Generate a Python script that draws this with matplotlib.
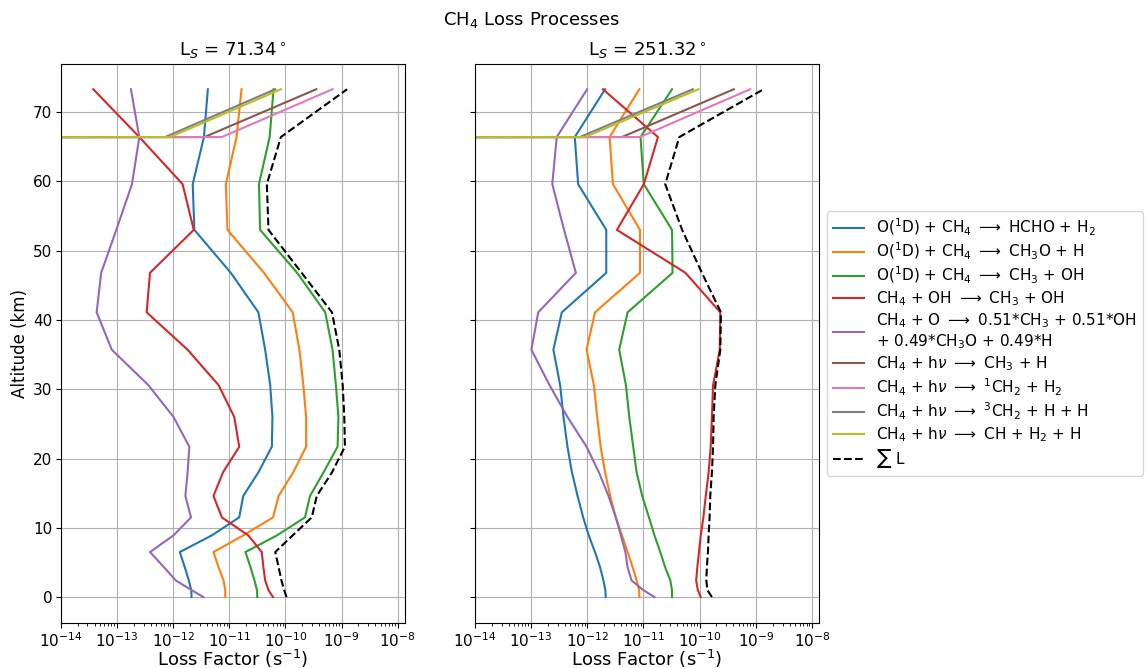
import matplotlib
matplotlib.use("Agg")
import matplotlib.pyplot as plt

# altitude levels (km), shared by both seasons
alt = [0.0, 1.0, 2.4, 4.3, 6.5, 8.9, 11.5, 14.6, 18.0, 21.7, 26.0,
       30.6, 35.7, 41.1, 46.8, 53.0, 59.6, 66.4, 73.3]

# Ls = 71.34
o1d_hcho_a = [2.14e-12, 2.11e-12, 1.91e-12, 1.62e-12, 1.32e-12, 4.90e-12, 1.51e-11, 1.78e-11, 3.31e-11, 5.75e-11,
              5.89e-11, 5.37e-11, 4.37e-11, 3.31e-11, 1.07e-11, 2.40e-12, 2.24e-12, 3.55e-12, 4.17e-12]
o1d_ch3o_a = [8.51e-12, 8.50e-12, 7.94e-12, 6.46e-12, 5.25e-12, 1.78e-11, 6.03e-11, 7.59e-11, 1.38e-10, 2.34e-10,
              2.34e-10, 2.09e-10, 1.78e-10, 1.35e-10, 4.17e-11, 9.33e-12, 8.71e-12, 1.35e-11, 1.66e-11]
o1d_ch3_a = [3.16e-11, 3.13e-11, 2.82e-11, 2.40e-11, 1.95e-11, 7.08e-11, 2.24e-10, 2.75e-10, 4.79e-10, 8.51e-10,
             8.81e-10, 7.94e-10, 6.92e-10, 5.13e-10, 1.62e-10, 3.55e-11, 3.39e-11, 5.25e-11, 6.17e-11]
oh_a = [6.03e-11, 5.01e-11, 4.37e-11, 4.07e-11, 3.80e-11, 2.19e-11, 7.41e-12, 5.25e-12, 7.76e-12, 1.51e-11,
        1.23e-11, 6.46e-12, 1.82e-12, 3.39e-13, 3.89e-13, 2.34e-12, 1.48e-12, 2.51e-13, 3.80e-14]
o_a = [3.47e-12, 2.14e-12, 1.12e-12, 6.92e-13, 3.89e-13, 1.02e-12, 2.09e-12, 1.66e-12, 1.82e-12, 1.95e-12,
       1.02e-12, 3.63e-13, 8.13e-14, 4.37e-14, 5.25e-14, 9.77e-14, 1.86e-13, 2.51e-13, 1.78e-13]
hv_ch3_a = [0.0] * 17 + [3.63e-12, 3.55e-10]
hv_1ch2_a = [0.0] * 17 + [7.41e-12, 6.92e-10]
hv_3ch2_a = [0.0] * 17 + [7.24e-13, 6.61e-11]
hv_ch_a = [0.0] * 17 + [8.91e-13, 8.32e-11]
total_a = [1.05e-10, 9.55e-11, 8.51e-11, 7.59e-11, 6.61e-11, 1.35e-10, 2.95e-10, 3.63e-10, 6.76e-10, 1.15e-9,
           1.12e-9, 1.05e-9, 9.12e-10, 6.76e-10, 1.95e-10, 5.01e-11, 4.68e-11, 8.32e-11, 1.26e-9]

# Ls = 251.32
o1d_hcho_b = [2.14e-12, 2.11e-12, 1.95e-12, 1.70e-12, 1.38e-12, 1.07e-12, 8.51e-13, 6.76e-13, 5.37e-13, 4.47e-13,
              3.80e-13, 3.31e-13, 2.51e-13, 3.55e-13, 2.19e-12, 2.19e-12, 6.92e-13, 6.03e-13, 2.09e-12]
o1d_ch3o_b = [8.51e-12, 8.41e-12, 7.59e-12, 6.46e-12, 5.25e-12, 4.17e-12, 3.24e-12, 2.57e-12, 2.09e-12, 1.74e-12,
              1.51e-12, 1.32e-12, 9.77e-13, 1.38e-12, 8.71e-12, 8.71e-12, 2.88e-12, 2.51e-12, 8.51e-12]
o1d_ch3_b = [3.24e-11, 3.24e-11, 3.02e-11, 2.45e-11, 2.00e-11, 1.58e-11, 1.26e-11, 9.55e-12, 7.59e-12, 6.61e-12,
             5.62e-12, 4.90e-12, 3.72e-12, 5.25e-12, 3.31e-11, 3.24e-11, 1.02e-11, 8.91e-12, 3.24e-11]
oh_b = [1.05e-10, 9.33e-11, 8.71e-11, 9.12e-11, 9.77e-11, 1.05e-10, 1.17e-10, 1.29e-10, 1.45e-10, 1.58e-10,
        1.66e-10, 1.74e-10, 2.29e-10, 2.34e-10, 5.62e-11, 3.39e-12, 1.02e-11, 1.82e-11, 1.91e-12]
o_b = [1.58e-11, 1.00e-11, 6.17e-12, 5.25e-12, 4.79e-12, 3.98e-12, 3.24e-12, 2.40e-12, 1.62e-12, 9.77e-13,
       4.47e-13, 2.14e-13, 1.02e-13, 1.35e-13, 6.31e-13, 3.89e-13, 2.40e-13, 2.88e-13, 1.00e-12]
hv_ch3_b = [0.0] * 17 + [4.17e-12, 4.07e-10]
hv_1ch2_b = [0.0] * 17 + [8.71e-12, 7.94e-10]
hv_3ch2_b = [0.0] * 17 + [7.41e-13, 7.59e-11]
hv_ch_b = [0.0] * 17 + [9.12e-13, 9.55e-11]
total_b = [1.66e-10, 1.38e-10, 1.32e-10, 1.35e-10, 1.41e-10, 1.45e-10, 1.51e-10, 1.55e-10, 1.66e-10, 1.74e-10,
           1.78e-10, 1.91e-10, 2.34e-10, 2.40e-10, 1.10e-10, 4.90e-11, 2.45e-11, 4.37e-11, 1.38e-9]

labels = [
    r'O($^1$D) + CH$_4$ $\longrightarrow$ HCHO + H$_2$',
    r'O($^1$D) + CH$_4$ $\longrightarrow$ CH$_3$O + H',
    r'O($^1$D) + CH$_4$ $\longrightarrow$ CH$_3$ + OH',
    r'CH$_4$ + OH $\longrightarrow$ CH$_3$ + OH',
    'CH$_4$ + O $\\longrightarrow$ 0.51*CH$_3$ + 0.51*OH\n+ 0.49*CH$_3$O + 0.49*H',
    r'CH$_4$ + h$\nu$ $\longrightarrow$ CH$_3$ + H',
    r'CH$_4$ + h$\nu$ $\longrightarrow$ $^1$CH$_2$ + H$_2$',
    r'CH$_4$ + h$\nu$ $\longrightarrow$ $^3$CH$_2$ + H + H',
    r'CH$_4$ + h$\nu$ $\longrightarrow$ CH + H$_2$ + H',
]
total_label = r'$\sum$ L'
colors = ['tab:blue', 'tab:orange', 'tab:green', 'tab:red', 'tab:purple',
          'tab:brown', 'tab:pink', 'tab:gray', 'tab:olive']

seasons = [
    (r'L$_S$ = 71.34$^\circ$',
     [o1d_hcho_a, o1d_ch3o_a, o1d_ch3_a, oh_a, o_a, hv_ch3_a, hv_1ch2_a, hv_3ch2_a, hv_ch_a], total_a),
    (r'L$_S$ = 251.32$^\circ$',
     [o1d_hcho_b, o1d_ch3o_b, o1d_ch3_b, oh_b, o_b, hv_ch3_b, hv_1ch2_b, hv_3ch2_b, hv_ch_b], total_b),
]

W, H = 1146, 668
fig = plt.figure(figsize=(W / 100, H / 100), dpi=100)
ax1 = fig.add_axes([60.7 / W, 1 - 622.7 / H, 344.3 / W, 558.4 / H])
ax2 = fig.add_axes([474.7 / W, 1 - 622.7 / H, 344.6 / W, 558.4 / H], sharey=ax1)

for ax, (title, series, total) in zip([ax1, ax2], seasons):
    for vals, lab, c in zip(series, labels, colors):
        ax.plot(vals, alt, color=c, label=lab)
    ax.plot(total, alt, 'k--', label=total_label)
    ax.set_xscale('log')
    ax.set_xlim(1e-14, 1.35e-8)
    ax.set_yticks(range(0, 80, 10))
    ax.grid(True)
    ax.set_title(title, fontsize=13)
    ax.set_xlabel(r'Loss Factor (s$^{-1}$)', fontsize=13, labelpad=-1)
    ax.tick_params(labelsize=11, pad=2.5)

ax1.set_ylim(-3.7, 76.9)
ax1.set_ylabel('Altitude (km)', fontsize=12, labelpad=3)
plt.setp(ax2.get_yticklabels(), visible=False)

ax2.legend(loc='center left', bbox_to_anchor=(1, 0.5), fontsize=11,
           labelspacing=0.2)
fig.suptitle(r'CH$_4$ Loss Processes', x=531 / W, y=0.985, fontsize=13)

fig.savefig('out.png', dpi=100)
